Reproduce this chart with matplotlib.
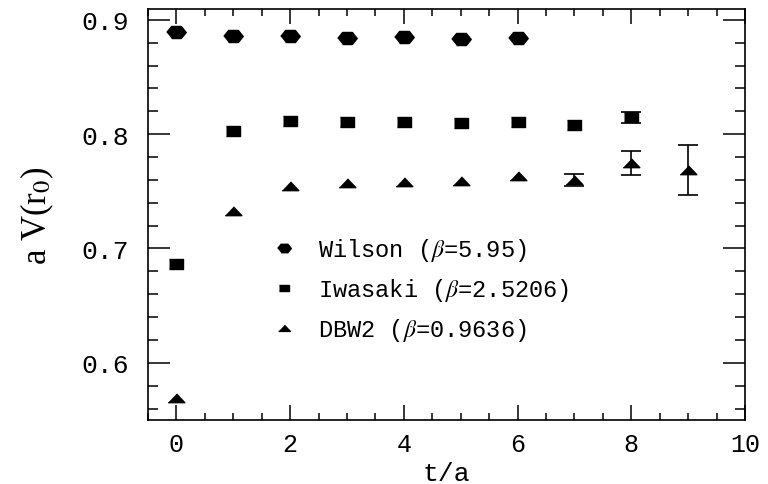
import matplotlib.pyplot as plt
import numpy as np
from matplotlib.ticker import MultipleLocator

# t/a values
t_wilson = [0, 1, 2, 3, 4, 5, 6]
v_wilson = [0.889, 0.8855, 0.8855, 0.884, 0.8846, 0.8834, 0.884]

t_iwasaki = [0, 1, 2, 3, 4, 5, 6, 7, 8]
v_iwasaki = [0.6866, 0.8025, 0.8113, 0.8104, 0.8104, 0.8095, 0.8104, 0.808, 0.8147]
e_iwasaki = [0, 0, 0, 0, 0, 0, 0, 0, 0.005]

t_dbw2 = [0, 1, 2, 3, 4, 5, 6, 7, 8, 9]
v_dbw2 = [0.569, 0.733, 0.7545, 0.757, 0.758, 0.759, 0.763, 0.760, 0.7748, 0.7687]
e_dbw2 = [0, 0, 0, 0, 0, 0, 0, 0.0052, 0.0103, 0.022]

labels = [r'Wilson ($\beta$=5.95)', r'Iwasaki ($\beta$=2.5206)', r'DBW2 ($\beta$=0.9636)']

plt.rcParams['mathtext.fontset'] = 'stix'
tickfont = 'Liberation Mono'

# flattened markers like the original
hexa = [(-1, 0), (-0.5, 0.62), (0.5, 0.62), (1, 0), (0.5, -0.62), (-0.5, -0.62)]
rect = [(-1, -0.62), (1, -0.62), (1, 0.62), (-1, 0.62)]
tri = [(-1, -0.5), (1, -0.5), (0, 0.55)]

fig = plt.figure(figsize=(7.68, 4.85), dpi=100)
ax = fig.add_axes([0.1927, 0.132, 0.7773, 0.847])

ax.plot(t_wilson, v_wilson, ls='none', marker=hexa, ms=14, color='black', label=labels[0])
ax.plot(t_iwasaki, v_iwasaki, ls='none', marker=rect, ms=10.5, color='black', label=labels[1])
ax.plot(t_dbw2, v_dbw2, ls='none', marker=tri, ms=12, color='black', label=labels[2])

for t, v, e in [(t_iwasaki, v_iwasaki, e_iwasaki), (t_dbw2, v_dbw2, e_dbw2)]:
    t = np.array(t); v = np.array(v); e = np.array(e)
    m = e > 0
    ax.errorbar(t[m], v[m], yerr=e[m], fmt='none', ecolor='black', elinewidth=1.2,
                capsize=7.5, capthick=1.2)

ax.set_xlim(-0.5, 10)
ax.set_ylim(0.55, 0.9093)
ax.xaxis.set_major_locator(MultipleLocator(2))
ax.xaxis.set_minor_locator(MultipleLocator(0.5))
ax.yaxis.set_major_locator(MultipleLocator(0.1))
ax.yaxis.set_minor_locator(MultipleLocator(0.02))

ax.tick_params(axis='both', which='both', direction='in', top=True, right=True, width=1.1)
ax.tick_params(axis='y', which='major', length=16, pad=14)
ax.tick_params(axis='y', which='minor', length=7.5)
ax.tick_params(axis='x', which='major', length=10.5, pad=9)
ax.tick_params(axis='x', which='minor', length=5)
for sp in ax.spines.values():
    sp.set_linewidth(1.2)

ax.set_xticks([0, 2, 4, 6, 8, 10])
ax.set_xticklabels(['0', '2', '4', '6', '8', '10'], fontfamily=tickfont, fontsize=18)
ax.set_yticks([0.6, 0.7, 0.8, 0.9])
ax.set_yticklabels(['0.6', '0.7', '0.8', '0.9'], fontfamily=tickfont, fontsize=19)

ax.set_xlabel('t/a', fontfamily=tickfont, fontsize=19, labelpad=3)
ax.set_ylabel(r'a V(r$_0$)', fontfamily='Liberation Serif', fontsize=25, labelpad=18)

leg = ax.legend(loc='upper left', bbox_to_anchor=(0.163, 0.50), frameon=False,
                prop={'family': tickfont, 'size': 17}, markerscale=0.7,
                handlelength=1.5, handletextpad=0.7, labelspacing=0.55, numpoints=1)

fig.savefig('out.png', dpi=100)
